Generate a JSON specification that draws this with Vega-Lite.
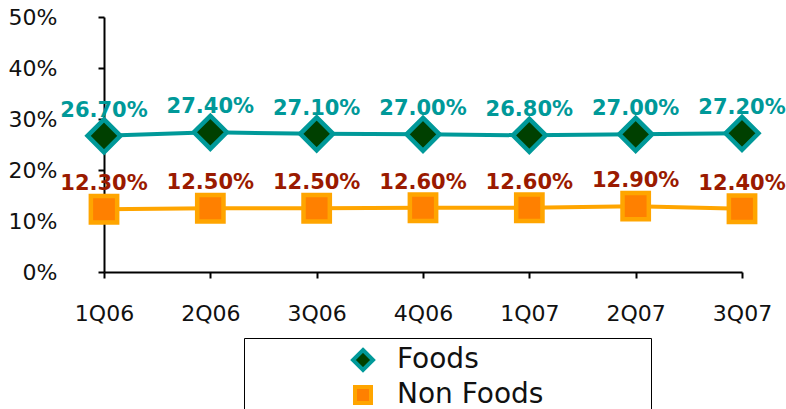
{
  "$schema": "https://vega.github.io/schema/vega-lite/v6.json",
  "width": 638,
  "height": 255,
  "autosize": "none",
  "padding": {"left": 104, "top": 17, "right": 44, "bottom": 137},
  "background": "white",
  "config": {
    "view": {"stroke": null},
    "font": "DejaVu Sans",
    "axis": {
      "grid": false,
      "domainColor": "#000000",
      "domainWidth": 2,
      "tickColor": "#000000",
      "tickWidth": 2,
      "tickSize": 6,
      "labelFontSize": 22,
      "labelColor": "#111111",
      "title": null
    },
    "legend": {
      "orient": "none",
      "legendX": 140,
      "legendY": 321,
      "padding": 8,
      "strokeColor": "#000000",
      "fillColor": "#ffffff",
      "symbolOffset": 97,
      "labelOffset": 20,
      "labelFontSize": 28,
      "labelColor": "#111111",
      "rowPadding": 1,
      "symbolSize": 256,
      "symbolStrokeWidth": 4,
      "titleOrient": "right",
      "titlePadding": 100,
      "titleFontSize": 4
    }
  },
  "data": {
    "values": [
      {"quarter": "1Q06", "series": "Foods", "share": 0.267},
      {"quarter": "2Q06", "series": "Foods", "share": 0.274},
      {"quarter": "3Q06", "series": "Foods", "share": 0.271},
      {"quarter": "4Q06", "series": "Foods", "share": 0.270},
      {"quarter": "1Q07", "series": "Foods", "share": 0.268},
      {"quarter": "2Q07", "series": "Foods", "share": 0.270},
      {"quarter": "3Q07", "series": "Foods", "share": 0.272},
      {"quarter": "1Q06", "series": "Non Foods", "share": 0.123},
      {"quarter": "2Q06", "series": "Non Foods", "share": 0.125},
      {"quarter": "3Q06", "series": "Non Foods", "share": 0.125},
      {"quarter": "4Q06", "series": "Non Foods", "share": 0.126},
      {"quarter": "1Q07", "series": "Non Foods", "share": 0.126},
      {"quarter": "2Q07", "series": "Non Foods", "share": 0.129},
      {"quarter": "3Q07", "series": "Non Foods", "share": 0.124}
    ]
  },
  "encoding": {
    "x": {
      "field": "quarter",
      "type": "ordinal",
      "sort": null,
      "scale": {"type": "point", "padding": 0},
      "axis": {"labelAngle": 0, "labelPadding": 25}
    },
    "y": {
      "field": "share",
      "type": "quantitative",
      "scale": {"domain": [0, 0.5], "nice": false, "zero": true},
      "axis": {"values": [0, 0.1, 0.2, 0.3, 0.4, 0.5], "format": ".0%", "labelPadding": 41}
    }
  },
  "layer": [
    {
      "mark": {"type": "line", "strokeWidth": 4},
      "encoding": {
        "color": {
          "field": "series",
          "type": "nominal",
          "scale": {"range": ["#009999", "#FFA500"]},
          "legend": null
        }
      }
    },
    {
      "mark": {"type": "point", "filled": true, "size": 692, "strokeWidth": 4.5, "opacity": 1},
      "encoding": {
        "shape": {
          "field": "series",
          "type": "nominal",
          "title": " ",
          "scale": {"domain": ["Foods", "Non Foods"], "range": ["M0,-1.25L1.25,0L0,1.25L-1.25,0Z", "M-1,-1H1V1H-1Z"]},
          "legend": {
            "encode": {
              "legend": {"strokeWidth": {"value": 2}},
              "symbols": {
                "shape": {"value": {"expr": "datum.value === 'Foods' ? 'M0,-1.25L1.25,0L0,1.25L-1.25,0Z M-1.9,0H-1.25M1.25,0H1.9' : 'M-1,-1H1V1H-1Z M-1.9,0H-1M1,0H1.9'"}}
              }
            }
          }
        },
        "fill": {
          "field": "series",
          "type": "nominal",
          "title": " ",
          "scale": {"domain": ["Foods", "Non Foods"], "range": ["#004000", "#FF8000"]},
          "legend": {
            "encode": {
              "legend": {"strokeWidth": {"value": 2}},
              "symbols": {
                "shape": {"value": {"expr": "datum.value === 'Foods' ? 'M0,-1.25L1.25,0L0,1.25L-1.25,0Z M-1.9,0H-1.25M1.25,0H1.9' : 'M-1,-1H1V1H-1Z M-1.9,0H-1M1,0H1.9'"}}
              }
            }
          }
        },
        "stroke": {
          "field": "series",
          "type": "nominal",
          "title": " ",
          "scale": {"domain": ["Foods", "Non Foods"], "range": ["#009999", "#FFA500"]},
          "legend": {
            "encode": {
              "legend": {"strokeWidth": {"value": 2}},
              "symbols": {
                "shape": {"value": {"expr": "datum.value === 'Foods' ? 'M0,-1.25L1.25,0L0,1.25L-1.25,0Z M-1.9,0H-1.25M1.25,0H1.9' : 'M-1,-1H1V1H-1Z M-1.9,0H-1M1,0H1.9'"}}
              }
            }
          }
        }
      }
    },
    {
      "mark": {"type": "text", "dy": -25, "fontWeight": "bold", "fontSize": 21, "baseline": "middle"},
      "encoding": {
        "text": {"field": "share", "type": "quantitative", "format": ".2%"},
        "color": {
          "condition": {"test": "datum.series === 'Foods'", "value": "#009999"},
          "value": "#9A1A00"
        }
      }
    }
  ]
}
